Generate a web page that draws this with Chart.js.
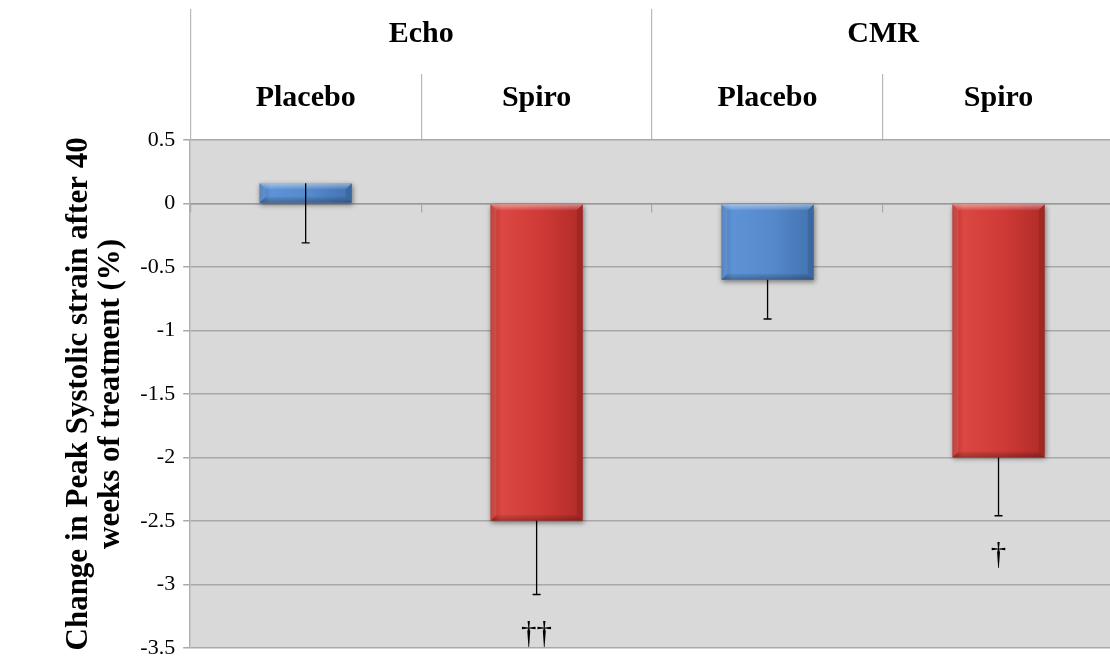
<!DOCTYPE html>
<html>
<head>
<meta charset="utf-8">
<script src="https://cdn.jsdelivr.net/npm/chart.js@4.4.1/dist/chart.umd.min.js"></script>
<style>
html,body{margin:0;padding:0;overflow:hidden;background:#ffffff;}
#wrap{width:1114px;height:669px;position:relative;}
</style>
</head>
<body>
<div id="wrap"><canvas id="c"></canvas></div>
<script>
// ---- data ----
const groups = ['Echo', 'CMR'];
const categories = ['Placebo', 'Spiro', 'Placebo', 'Spiro'];
const values = [0.16, -2.5, -0.6, -2.0];
const errorsDown = [0.47, 0.58, 0.31, 0.46];
const significance = ['', '\u2020\u2020', '', '\u2020'];
const yTickValues = [0.5, 0, -0.5, -1, -1.5, -2, -2.5, -3, -3.5];
const yTitle = ['Change in Peak Systolic strain after 40', 'weeks of treatment (%)'];

// ---- styles ----
const FONT = "'Liberation Serif', 'Times New Roman', serif";
const palette = {
  Placebo: ['#4576b6', '#5d93d6', '#5589cb', '#4272b0'],
  Spiro:   ['#b82d2a', '#db4742', '#cf3a36', '#b02b28']
};
const GRID = '#a8a8a8';
const HEAD = '#b8b8b8';

function barFill(c) {
  const chart = c.chart;
  const xs = chart.scales.x;
  const cols = palette[categories[c.dataIndex]];
  if (!xs || !chart.chartArea) return cols[2];
  const cx = xs.getPixelForValue(c.dataIndex);
  const w = xs.width / categories.length * 0.4;
  const g = chart.ctx.createLinearGradient(cx - w / 2, 0, cx + w / 2, 0);
  g.addColorStop(0, cols[0]);
  g.addColorStop(0.12, cols[1]);
  g.addColorStop(0.55, cols[2]);
  g.addColorStop(1, cols[3]);
  return g;
}

const bgPlugin = {
  id: 'plotBg',
  beforeDraw(chart) {
    const {ctx, chartArea: a} = chart;
    ctx.save();
    ctx.fillStyle = '#d9d9d9';
    ctx.fillRect(a.left, a.top, a.right - a.left, a.bottom - a.top);
    ctx.restore();
  }
};

const barFx = {
  id: 'barFx',
  beforeDatasetsDraw(chart) {
    const ctx = chart.ctx;
    ctx.save();
    ctx.shadowColor = 'rgba(0,0,0,0.45)';
    ctx.shadowBlur = 5;
    ctx.shadowOffsetX = 1;
    ctx.shadowOffsetY = 2;
  },
  afterDatasetsDraw(chart) {
    const ctx = chart.ctx;
    ctx.restore();
    const meta = chart.getDatasetMeta(0);
    const ys = chart.scales.y;
    meta.data.forEach((el, i) => {
      const left = el.x - el.width / 2, right = el.x + el.width / 2;
      const top = Math.min(el.y, el.base), bottom = Math.max(el.y, el.base);
      const h = bottom - top;
      const b = Math.min(6, h / 2);
      ctx.save();
      let g = ctx.createLinearGradient(0, top, 0, top + b);
      g.addColorStop(0, 'rgba(255,255,255,0.45)');
      g.addColorStop(1, 'rgba(255,255,255,0.05)');
      ctx.fillStyle = g;
      ctx.beginPath();
      ctx.moveTo(left, top); ctx.lineTo(right, top);
      ctx.lineTo(right - b, top + b); ctx.lineTo(left + b, top + b);
      ctx.closePath(); ctx.fill();
      g = ctx.createLinearGradient(0, bottom - b, 0, bottom);
      g.addColorStop(0, 'rgba(0,0,0,0.05)');
      g.addColorStop(1, 'rgba(0,0,0,0.28)');
      ctx.fillStyle = g;
      ctx.beginPath();
      ctx.moveTo(left, bottom); ctx.lineTo(right, bottom);
      ctx.lineTo(right - b, bottom - b); ctx.lineTo(left + b, bottom - b);
      ctx.closePath(); ctx.fill();
      ctx.fillStyle = 'rgba(0,0,0,0.10)';
      ctx.beginPath();
      ctx.moveTo(right, top); ctx.lineTo(right, bottom);
      ctx.lineTo(right - b, bottom - b); ctx.lineTo(right - b, top + b);
      ctx.closePath(); ctx.fill();
      ctx.fillStyle = 'rgba(255,255,255,0.10)';
      ctx.beginPath();
      ctx.moveTo(left, top); ctx.lineTo(left, bottom);
      ctx.lineTo(left + b, bottom - b); ctx.lineTo(left + b, top + b);
      ctx.closePath(); ctx.fill();
      ctx.restore();

      const y1 = ys.getPixelForValue(values[i]);
      const y2 = ys.getPixelForValue(values[i] - errorsDown[i]);
      ctx.save();
      ctx.strokeStyle = '#000';
      ctx.lineWidth = 1.3;
      ctx.beginPath();
      ctx.moveTo(el.x, y1); ctx.lineTo(el.x, y2);
      ctx.moveTo(el.x - 4, y2); ctx.lineTo(el.x + 4, y2);
      ctx.stroke();
      if (significance[i]) {
        ctx.fillStyle = '#000';
        ctx.font = '31px ' + FONT;
        ctx.textAlign = 'center';
        ctx.textBaseline = 'middle';
        ctx.fillText(significance[i], el.x, y2 + 40);
      }
      ctx.restore();
    });
  }
};

new Chart(document.getElementById('c'), {
  type: 'bar',
  data: {
    labels: categories,
    datasets: [{
      data: values,
      xAxisID: 'x',
      yAxisID: 'y',
      backgroundColor: barFill,
      borderWidth: 0,
      barPercentage: 0.4,
      categoryPercentage: 1.0
    }]
  },
  options: {
    responsive: true,
    maintainAspectRatio: false,
    animation: false,
    devicePixelRatio: 1,
    layout: {padding: {top: 9, left: 0, right: 0, bottom: 5}},
    plugins: {legend: {display: false}, tooltip: {enabled: false}},
    scales: {
      x: {
        type: 'category',
        axis: 'x',
        position: 'top',
        offset: true,
        labels: categories,
        grid: {offset: true, drawOnChartArea: false, drawTicks: true, tickLength: 66, color: HEAD, lineWidth: 1.2},
        border: {display: false},
        ticks: {font: {family: FONT, size: 30, weight: 'bold'}, color: '#000', padding: -42.4, maxRotation: 0, autoSkip: false},
        afterFit(s) { s.height = 66; }
      },
      x2: {
        type: 'category',
        axis: 'x',
        position: 'top',
        offset: true,
        labels: groups,
        grid: {offset: true, drawOnChartArea: false, drawTicks: true, tickLength: 65, color: HEAD, lineWidth: 1.2},
        border: {display: false},
        ticks: {font: {family: FONT, size: 30, weight: 'bold'}, color: '#000', padding: -43.4, maxRotation: 0, autoSkip: false},
        afterFit(s) { s.height = 65; }
      },
      x0: {
        type: 'category',
        axis: 'x',
        position: {y: 0},
        offset: true,
        labels: categories,
        grid: {offset: true, drawOnChartArea: false, drawTicks: true, tickLength: 8, color: GRID, lineWidth: 1.2},
        border: {display: true, color: '#9a9a9a', width: 1.5},
        ticks: {display: false},
        afterFit(s) { s.height = 0; }
      },
      y: {
        type: 'linear',
        position: 'left',
        min: -3.5,
        max: 0.5,
        afterBuildTicks(s) { s.ticks = yTickValues.map(v => ({value: v})); },
        grid: {color: GRID, lineWidth: 1.5, tickLength: 7, drawTicks: true},
        border: {display: true, color: '#b0b0b0', width: 1.5},
        ticks: {
          font: {family: FONT, size: 22},
          color: '#000',
          padding: 8,
          callback: v => String(v)
        },
        title: {
          display: true,
          text: yTitle,
          font: {family: FONT, size: 31, weight: 'bold', lineHeight: 1.03},
          color: '#000',
          padding: {top: 63, bottom: 5.5}
        }
      }
    }
  },
  plugins: [bgPlugin, barFx]
});
</script>
</body>
</html>
